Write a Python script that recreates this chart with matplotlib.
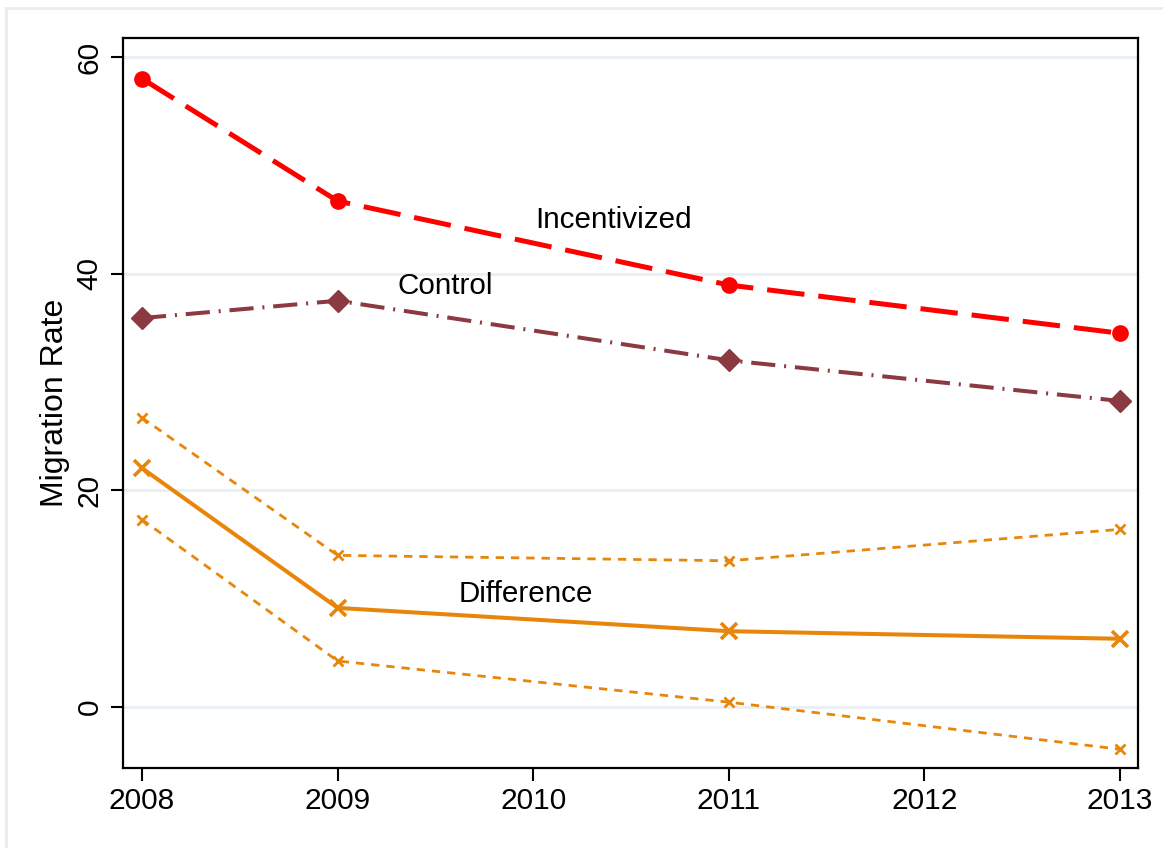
import numpy as np
import matplotlib.pyplot as plt
from matplotlib.lines import Line2D

plt.rcParams['font.family'] = ['Liberation Sans', 'DejaVu Sans']

years = [2008, 2009, 2011, 2013]
incentivized = [58.0, 46.7, 38.95, 34.5]
control = [35.9, 37.5, 32.0, 28.25]
difference = [22.05, 9.15, 7.0, 6.3]
diff_upper = [26.7, 14.0, 13.5, 16.4]
diff_lower = [17.3, 4.25, 0.45, -3.9]

red = '#ff0000'
maroon = '#8c3a42'
orange = '#e8860c'

fig = plt.figure(figsize=(11.63, 8.48), dpi=100)
ax = fig.add_axes([0.1058, 0.0943, 0.8727, 0.8609])

# outer graph region border
fig.add_artist(Line2D([6/1163, 6/1163], [0, 1 - 8/848], color='#e6eef2', lw=2))
fig.add_artist(Line2D([6/1163, 1], [1 - 8/848, 1 - 8/848], color='#e6eef2', lw=2))

for g in [0, 20, 40, 60]:
    ax.axhline(g, color='#e8eff2', lw=2, zorder=0)

ax.plot(years, incentivized, color=red, lw=3.6, dashes=(7.5, 2.8),
        marker='o', ms=11, zorder=4)
ax.plot(years, control, color=maroon, lw=2.9, dashes=(6, 2.2, 0.5, 2.2),
        marker='D', ms=11.5, zorder=4)
ax.plot(years, difference, color=orange, lw=2.9, marker='x', ms=11, mew=2.6,
        zorder=4)
ax.plot(years, diff_upper, color=orange, lw=2.0, dashes=(3, 2.5),
        marker='x', ms=7, mew=2, zorder=3)
ax.plot(years, diff_lower, color=orange, lw=2.0, dashes=(3, 2.5),
        marker='x', ms=7, mew=2, zorder=3)

ax.text(2010.41, 44.95, 'Incentivized', fontsize=21.3, ha='center', va='center')
ax.text(2009.55, 38.9, 'Control', fontsize=21.3, ha='center', va='center')
ax.text(2009.96, 10.4, 'Difference', fontsize=21.3, ha='center', va='center')

ax.set_xlim(2007.903, 2013.092)
ax.set_ylim(-5.63, 61.75)
ax.set_xticks([2008, 2009, 2010, 2011, 2012, 2013])
ax.set_yticks([0, 20, 40, 60])
ax.tick_params(direction='out', length=9, width=1.5, labelsize=21.5, pad=5)
for lab in ax.get_yticklabels():
    lab.set_rotation(90)
    lab.set_va('center')
ax.set_ylabel('Migration Rate', fontsize=23, labelpad=4)
for s in ax.spines.values():
    s.set_linewidth(1.6)

fig.savefig('out.png', dpi=100)
